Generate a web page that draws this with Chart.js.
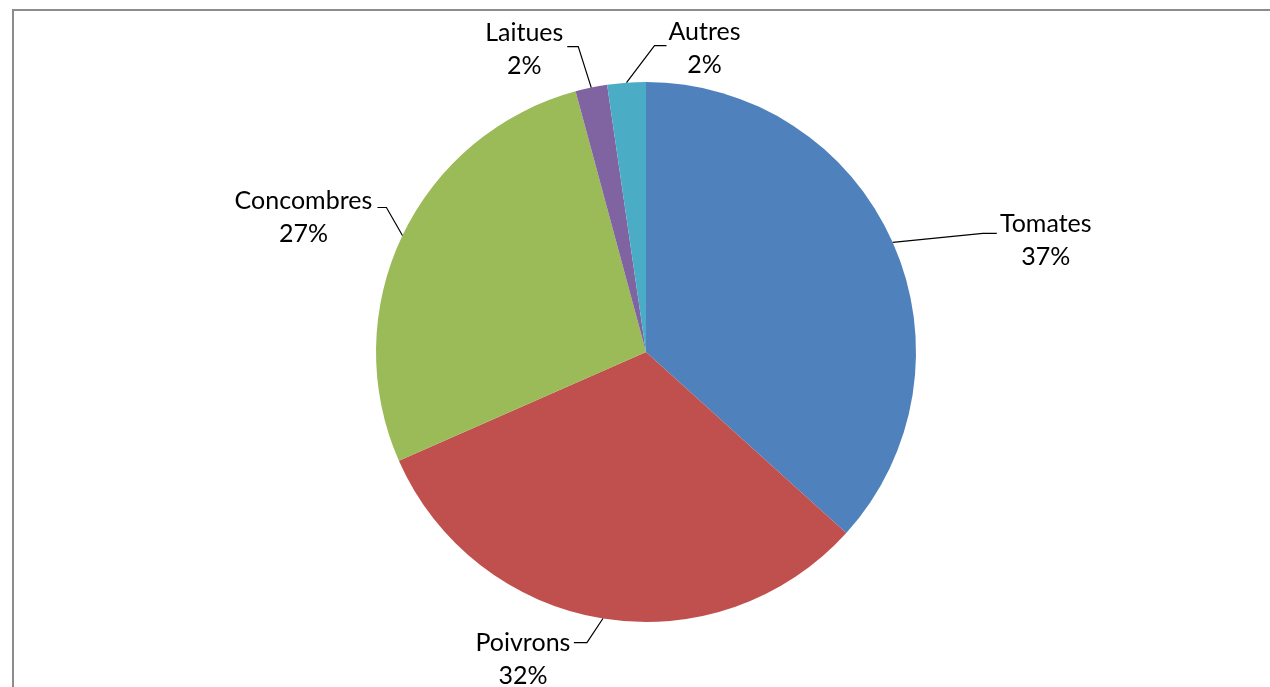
<!DOCTYPE html>
<html>
<head>
<meta charset="utf-8">
<script src="https://cdn.jsdelivr.net/npm/chart.js@4"></script>
<style>
  html, body { margin: 0; padding: 0; background: #fff; }
  #wrap { position: relative; width: 1270px; height: 687px; }
</style>
</head>
<body>
<div id="wrap"><canvas id="pieChart"></canvas></div>
<script>
const categories = ['Tomates', 'Poivrons', 'Concombres', 'Laitues', 'Autres'];
const shares = [36.7, 31.7, 27.4, 1.9, 2.3];
const sliceColors = ['#4F81BD', '#C0504D', '#9BBB59', '#8064A2', '#4BACC6'];

// leader line + label placement, relative to the slice's outer mid point
const labelLayout = [
  { elbow: [90, -9],   tick: 14,  text: [49, -1] },
  { elbow: [-16, 24],  tick: -13, text: [-51, 8] },
  { elbow: [-16, -28], tick: -9,  text: [-74, 1] },
  { elbow: [-13, -41], tick: -11, text: [-43, -6] },
  { elbow: [28, -37],  tick: 12,  text: [38, -6] }
];

const frame = {
  id: 'frame',
  beforeDraw(chart) {
    const ctx = chart.ctx;
    ctx.save();
    ctx.strokeStyle = '#8c8c8c';
    ctx.lineWidth = 2;
    ctx.beginPath();
    ctx.moveTo(13, chart.height);
    ctx.lineTo(13, 10);
    ctx.lineTo(chart.width, 10);
    ctx.stroke();
    ctx.restore();
  }
};

const sliceLabels = {
  id: 'sliceLabels',
  afterDatasetsDraw(chart) {
    const ctx = chart.ctx;
    const meta = chart.getDatasetMeta(0);
    const total = shares.reduce((a, b) => a + b, 0);
    ctx.save();
    ctx.strokeStyle = '#000';
    ctx.lineWidth = 1.2;
    ctx.fillStyle = '#000';
    ctx.font = '25px Lato, "Open Sans", sans-serif';
    ctx.textAlign = 'center';
    ctx.textBaseline = 'alphabetic';
    meta.data.forEach((arc, i) => {
      const p = arc.getProps(['x', 'y', 'startAngle', 'endAngle', 'outerRadius'], true);
      const mid = (p.startAngle + p.endAngle) / 2;
      const ex = p.x + Math.cos(mid) * p.outerRadius;
      const ey = p.y + Math.sin(mid) * p.outerRadius;
      const l = labelLayout[i];
      const bx = ex + l.elbow[0], by = ey + l.elbow[1];
      const tx = bx + l.tick;
      ctx.beginPath();
      ctx.moveTo(ex, ey);
      ctx.lineTo(bx, by);
      ctx.lineTo(tx, by);
      ctx.stroke();
      const cx = tx + l.text[0], cy = by + l.text[1];
      ctx.fillText(categories[i], cx, cy);
      ctx.fillText(Math.round(shares[i] / total * 100) + '%', cx, cy + 33);
    });
    ctx.restore();
  }
};

new Chart(document.getElementById('pieChart'), {
  type: 'pie',
  data: {
    labels: categories,
    datasets: [{
      data: shares,
      backgroundColor: sliceColors,
      borderWidth: 0
    }]
  },
  options: {
    responsive: true,
    maintainAspectRatio: false,
    animation: false,
    layout: { padding: { top: 82, bottom: 65, left: 100, right: 78 } },
    plugins: {
      legend: { display: false },
      tooltip: { enabled: false }
    }
  },
  plugins: [frame, sliceLabels]
});
</script>
</body>
</html>
